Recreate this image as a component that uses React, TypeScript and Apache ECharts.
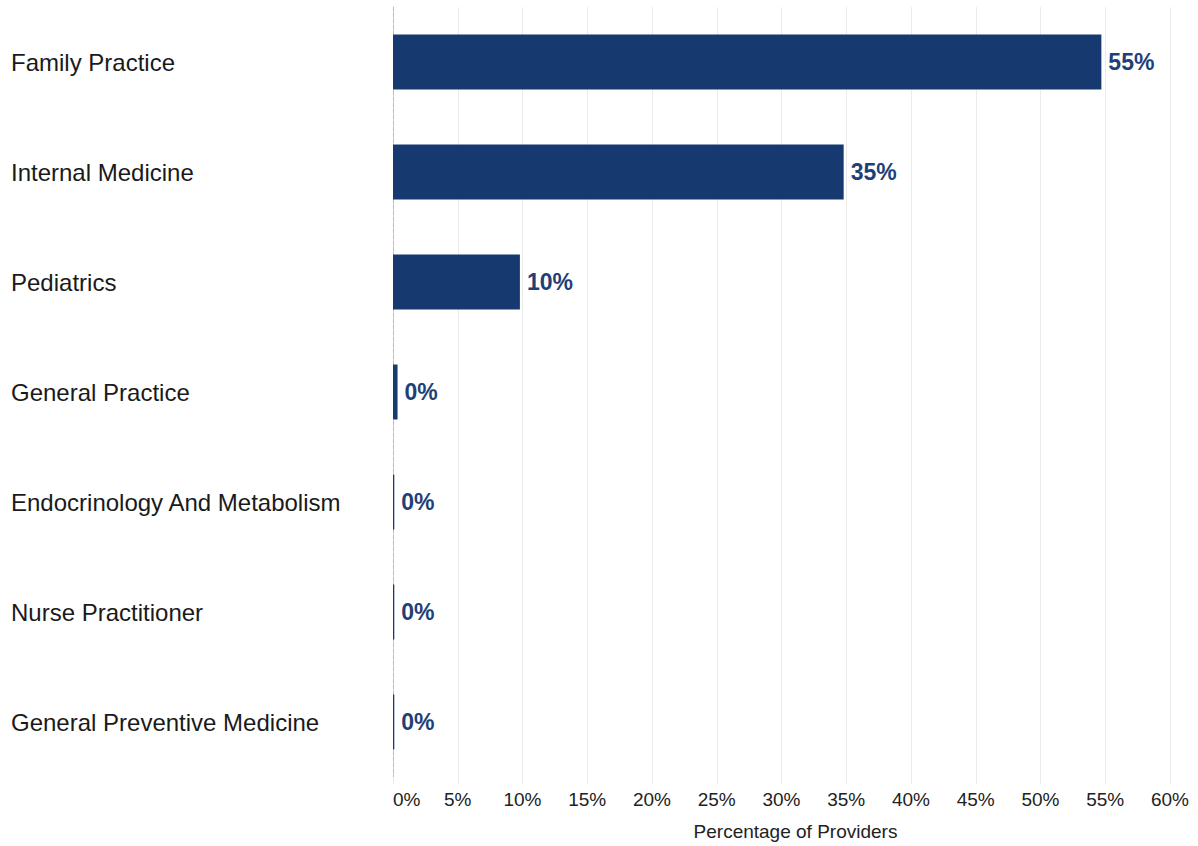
import React, { useEffect, useRef } from "react";
import * as echarts from "echarts";

const categories = [
  "Family Practice",
  "Internal Medicine",
  "Pediatrics",
  "General Practice",
  "Endocrinology And Metabolism",
  "Nurse Practitioner",
  "General Preventive Medicine",
];
const values = [54.7, 34.8, 9.8, 0.35, 0.1, 0.1, 0.1];
const xTicks = { min: 0, max: 60, interval: 5 };
const barColor = "#163a70";
const font = "'Liberation Sans', Arial, sans-serif";

export default function App() {
  const ref = useRef<HTMLDivElement>(null);
  useEffect(() => {
    if (!ref.current) return;
    const chart = echarts.init(ref.current, null, { renderer: "svg" });
    chart.setOption({
      animation: false,
      grid: { left: 393, right: 28, top: 7, bottom: 69, containLabel: false },
      xAxis: {
        type: "value",
        min: xTicks.min,
        max: xTicks.max,
        interval: xTicks.interval,
        name: "Percentage of Providers",
        nameLocation: "middle",
        nameGap: 45,
        nameTextStyle: {
          fontFamily: font,
          fontSize: 19,
          color: "#222",
          padding: [0, 0, 0, 28],
        },
        axisLine: { show: false },
        axisTick: { show: true, length: 7, lineStyle: { color: "#ebebeb" } },
        splitLine: { show: true, lineStyle: { color: "#ebebeb", width: 1 } },
        axisLabel: {
          formatter: (v: number) => `${v}%`,
          fontFamily: font,
          fontSize: 19,
          color: "#222",
          margin: 13,
          alignMinLabel: "left",
        },
      },
      yAxis: {
        type: "category",
        data: categories,
        inverse: true,
        axisLine: {
          show: true,
          lineStyle: { color: "#bbbbbb", type: "dashed", width: 1 },
        },
        axisTick: { show: false },
        axisLabel: {
          align: "left",
          margin: 382,
          fontFamily: font,
          fontSize: 24,
          color: "#1a1a1a",
        },
      },
      series: [
        {
          type: "bar",
          data: values,
          barWidth: "50%",
          itemStyle: { color: barColor },
          label: {
            show: true,
            position: "right",
            distance: 7,
            formatter: (p: any) => `${Math.round(p.value)}%`,
            fontFamily: font,
            fontSize: 23,
            fontWeight: "bold",
            color: "#1f3f78",
          },
        },
      ],
    });
    return () => chart.dispose();
  }, []);
  return (
    <div
      ref={ref}
      style={{ position: "absolute", left: 0, top: 0, width: 1198, height: 846 }}
    />
  );
}
